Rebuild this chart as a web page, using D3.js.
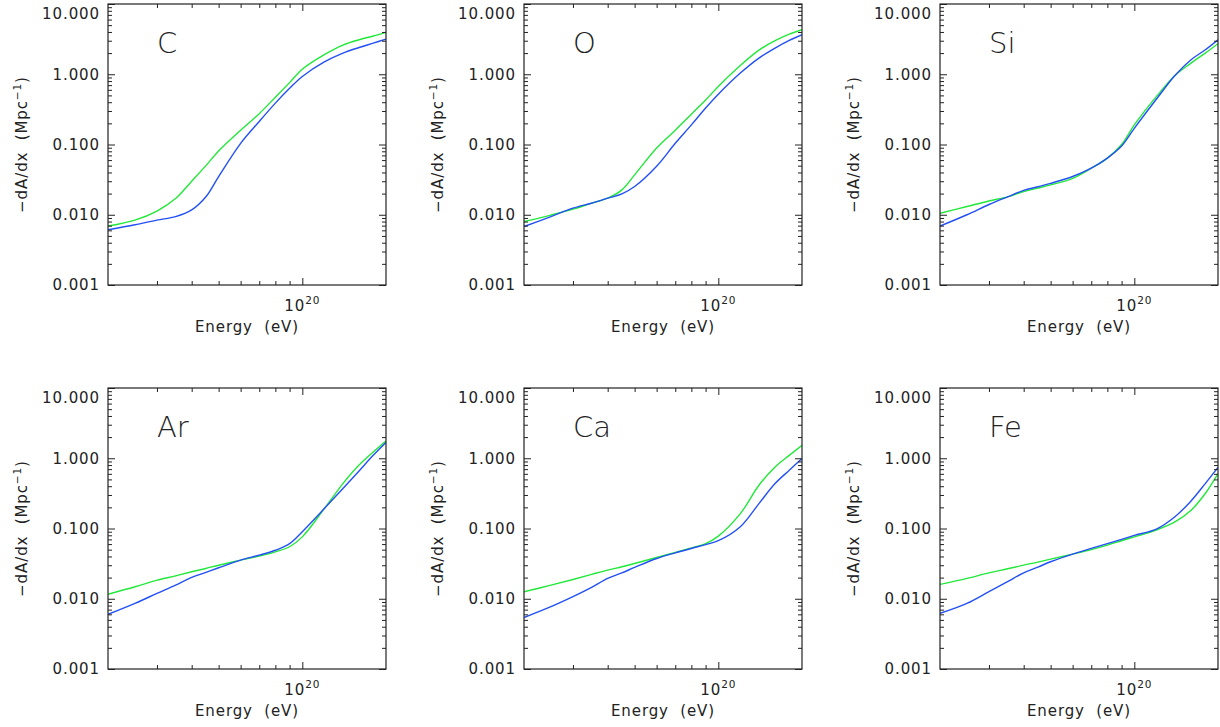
<!DOCTYPE html>
<html>
<head>
<meta charset="utf-8">
<script src="https://cdn.jsdelivr.net/npm/d3@7"></script>
<style>
  html, body { margin: 0; padding: 0; background: #fff; }
  svg { display: block; }
  text { font-family: "DejaVu Sans", sans-serif; fill: #222; }
</style>
</head>
<body>
<svg id="chart" width="1220" height="727"></svg>
<script>
// Energy grid, in units of 10^19 eV
const energies = [2, 2.5, 3, 3.5, 4, 4.5, 5, 6, 7, 8, 9, 10, 12, 14, 16, 18, 20];

// Panel names (row-major)
const elements = ["C", "O", "Si", "Ar", "Ca", "Fe"];

// -dA/dx (Mpc^-1), green curve
const greenC  = [0.0069, 0.0084, 0.0113, 0.0170, 0.0300, 0.050, 0.081, 0.160, 0.275, 0.47, 0.76, 1.18, 1.9, 2.6, 3.1, 3.5, 3.95];
const greenO  = [0.0080, 0.0099, 0.0120, 0.0146, 0.0172, 0.0226, 0.037, 0.089, 0.160, 0.27, 0.43, 0.67, 1.33, 2.2, 3.0, 3.72, 4.3];
const greenSi = [0.0105, 0.0131, 0.0157, 0.0180, 0.0214, 0.0239, 0.0266, 0.033, 0.046, 0.064, 0.100, 0.19, 0.48, 0.96, 1.44, 2.0, 2.72];
const greenAr = [0.0116, 0.0148, 0.0184, 0.0212, 0.0242, 0.027, 0.030, 0.0355, 0.0405, 0.0466, 0.055, 0.076, 0.192, 0.436, 0.80, 1.23, 1.76];
const greenCa = [0.0126, 0.0156, 0.0188, 0.0222, 0.0256, 0.0285, 0.0318, 0.0387, 0.0456, 0.053, 0.061, 0.078, 0.163, 0.413, 0.75, 1.10, 1.53];
const greenFe = [0.0160, 0.0195, 0.0234, 0.0267, 0.0301, 0.0332, 0.0366, 0.0432, 0.050, 0.058, 0.067, 0.076, 0.095, 0.124, 0.182, 0.315, 0.605];

// -dA/dx (Mpc^-1), blue curve
const blueC  = [0.0061, 0.0072, 0.0084, 0.0094, 0.0117, 0.018, 0.035, 0.104, 0.213, 0.388, 0.63, 0.93, 1.50, 2.0, 2.4, 2.77, 3.17];
const blueO  = [0.0068, 0.0094, 0.0124, 0.0146, 0.0172, 0.0198, 0.0252, 0.049, 0.104, 0.19, 0.33, 0.52, 1.04, 1.70, 2.36, 3.03, 3.66];
const blueSi = [0.0069, 0.0100, 0.0140, 0.0180, 0.0222, 0.0250, 0.028, 0.035, 0.046, 0.064, 0.095, 0.17, 0.44, 0.96, 1.61, 2.23, 3.1];
const blueAr = [0.0060, 0.0086, 0.0119, 0.0156, 0.0201, 0.0237, 0.0276, 0.0355, 0.0418, 0.049, 0.061, 0.090, 0.192, 0.37, 0.66, 1.10, 1.67];
const blueCa = [0.0054, 0.0077, 0.0107, 0.0145, 0.0195, 0.0234, 0.0279, 0.0374, 0.045, 0.052, 0.059, 0.067, 0.106, 0.226, 0.436, 0.675, 0.99];
const blueFe = [0.0062, 0.0086, 0.0126, 0.0175, 0.0234, 0.0282, 0.0336, 0.0432, 0.052, 0.061, 0.070, 0.080, 0.098, 0.147, 0.247, 0.436, 0.74];

const greenSeries = [greenC, greenO, greenSi, greenAr, greenCa, greenFe];
const blueSeries  = [blueC, blueO, blueSi, blueAr, blueCa, blueFe];

// Axis ticks
const yMajor = [0.001, 0.01, 0.1, 1, 10];
const yMinor = [];
[0.001, 0.01, 0.1, 1].forEach(d => { for (let k = 2; k <= 9; k++) yMinor.push(d * k); });
const xMajor = [1e20];
const xMinor = [3e19, 4e19, 5e19, 6e19, 7e19, 8e19, 9e19];

const GREEN = "#22e83a";
const BLUE = "#2350f5";
const INK = "#222";

const svg = d3.select("#chart");
svg.append("rect").attr("width", 1220).attr("height", 727).attr("fill", "#fff");

const W = 278, H = 281;
const x = d3.scaleLog().domain([2e19, 2e20]).range([0, W]);
const y = d3.scaleLog().domain([0.001, 10]).range([H, 0]);

elements.forEach((name, i) => {
  const col = i % 3, row = Math.floor(i / 3);
  const left = 108 + 416 * col, top = 4 + 384 * row;
  const g = svg.append("g").attr("transform", `translate(${left},${top})`);

  // curves
  const line = d3.line()
    .x(d => x(d[0] * 1e19))
    .y(d => y(d[1]))
    .curve(d3.curveCatmullRom.alpha(0.5));
  const clip = g.append("clipPath").attr("id", "clip" + i);
  clip.append("rect").attr("width", W).attr("height", H);
  const cg = g.append("g").attr("clip-path", `url(#clip${i})`);
  cg.append("path").datum(energies.map((e, j) => [e, greenSeries[i][j]]))
    .attr("d", line).attr("fill", "none").attr("stroke", GREEN).attr("stroke-width", 1.4);
  cg.append("path").datum(energies.map((e, j) => [e, blueSeries[i][j]]))
    .attr("d", line).attr("fill", "none").attr("stroke", BLUE).attr("stroke-width", 1.4);

  // axes (ticks pointing inward on all sides)
  const styleAxis = sel => {
    sel.select(".domain").remove();
    sel.selectAll(".tick line").attr("stroke", INK).attr("stroke-width", 1);
  };
  // left
  g.append("g").call(d3.axisLeft(y).tickValues(yMajor).tickSize(-7).tickFormat(d3.format(".3f")))
    .call(styleAxis)
    .call(s => s.selectAll("text").attr("font-size", 15).attr("letter-spacing", "0.9px")
      .attr("font-family", "DejaVu Sans, sans-serif").attr("fill", INK).attr("x", -8)
      .attr("dy", d => d === 10 ? "0.95em" : "0.32em"));
  g.append("g").call(d3.axisLeft(y).tickValues(yMinor).tickSize(-4).tickFormat(""))
    .call(styleAxis);
  // right
  g.append("g").attr("transform", `translate(${W},0)`)
    .call(d3.axisRight(y).tickValues(yMajor).tickSize(-7).tickFormat("")).call(styleAxis);
  g.append("g").attr("transform", `translate(${W},0)`)
    .call(d3.axisRight(y).tickValues(yMinor).tickSize(-4).tickFormat("")).call(styleAxis);
  // bottom
  g.append("g").attr("transform", `translate(0,${H})`)
    .call(d3.axisBottom(x).tickValues(xMajor).tickSize(-7).tickFormat("")).call(styleAxis);
  g.append("g").attr("transform", `translate(0,${H})`)
    .call(d3.axisBottom(x).tickValues(xMinor).tickSize(-4).tickFormat("")).call(styleAxis);
  // top
  g.append("g").call(d3.axisTop(x).tickValues(xMajor).tickSize(-7).tickFormat("")).call(styleAxis);
  g.append("g").call(d3.axisTop(x).tickValues(xMinor).tickSize(-4).tickFormat("")).call(styleAxis);

  // box
  g.append("rect").attr("width", W).attr("height", H)
    .attr("fill", "none").attr("stroke", INK).attr("stroke-width", 1.2);

  // x tick label 10^20
  xMajor.forEach(v => {
    const t = g.append("text").attr("x", x(v)).attr("y", H + 26)
      .attr("text-anchor", "middle").attr("font-size", 15).attr("letter-spacing", "0.9px");
    t.append("tspan").text("10");
    t.append("tspan").attr("dy", -7).attr("font-size", 10.5).text("20");
  });

  // x axis title
  g.append("text").attr("x", W / 2).attr("y", H + 47)
    .attr("text-anchor", "middle").attr("font-size", 15).attr("letter-spacing", "0.9px")
    .attr("xml:space", "preserve").text("Energy  (eV)");

  // y axis title
  const yt = g.append("text")
    .attr("transform", `translate(-81,${H / 2}) rotate(-90)`)
    .attr("text-anchor", "middle").attr("font-size", 15).attr("letter-spacing", "0.9px")
    .attr("xml:space", "preserve");
  yt.append("tspan").text("\u2212dA/dx  (Mpc");
  yt.append("tspan").attr("dy", -6).attr("font-size", 10.5).text("\u22121");
  yt.append("tspan").attr("dy", 6).text(")");

  // element label
  g.append("text").attr("x", 49).attr("y", 49)
    .attr("font-family", "'DejaVu Sans ExtraLight', 'DejaVu Sans', sans-serif").attr("font-weight", 200)
    .attr("font-size", 29).attr("fill", INK).text(name);
});
</script>
</body>
</html>
